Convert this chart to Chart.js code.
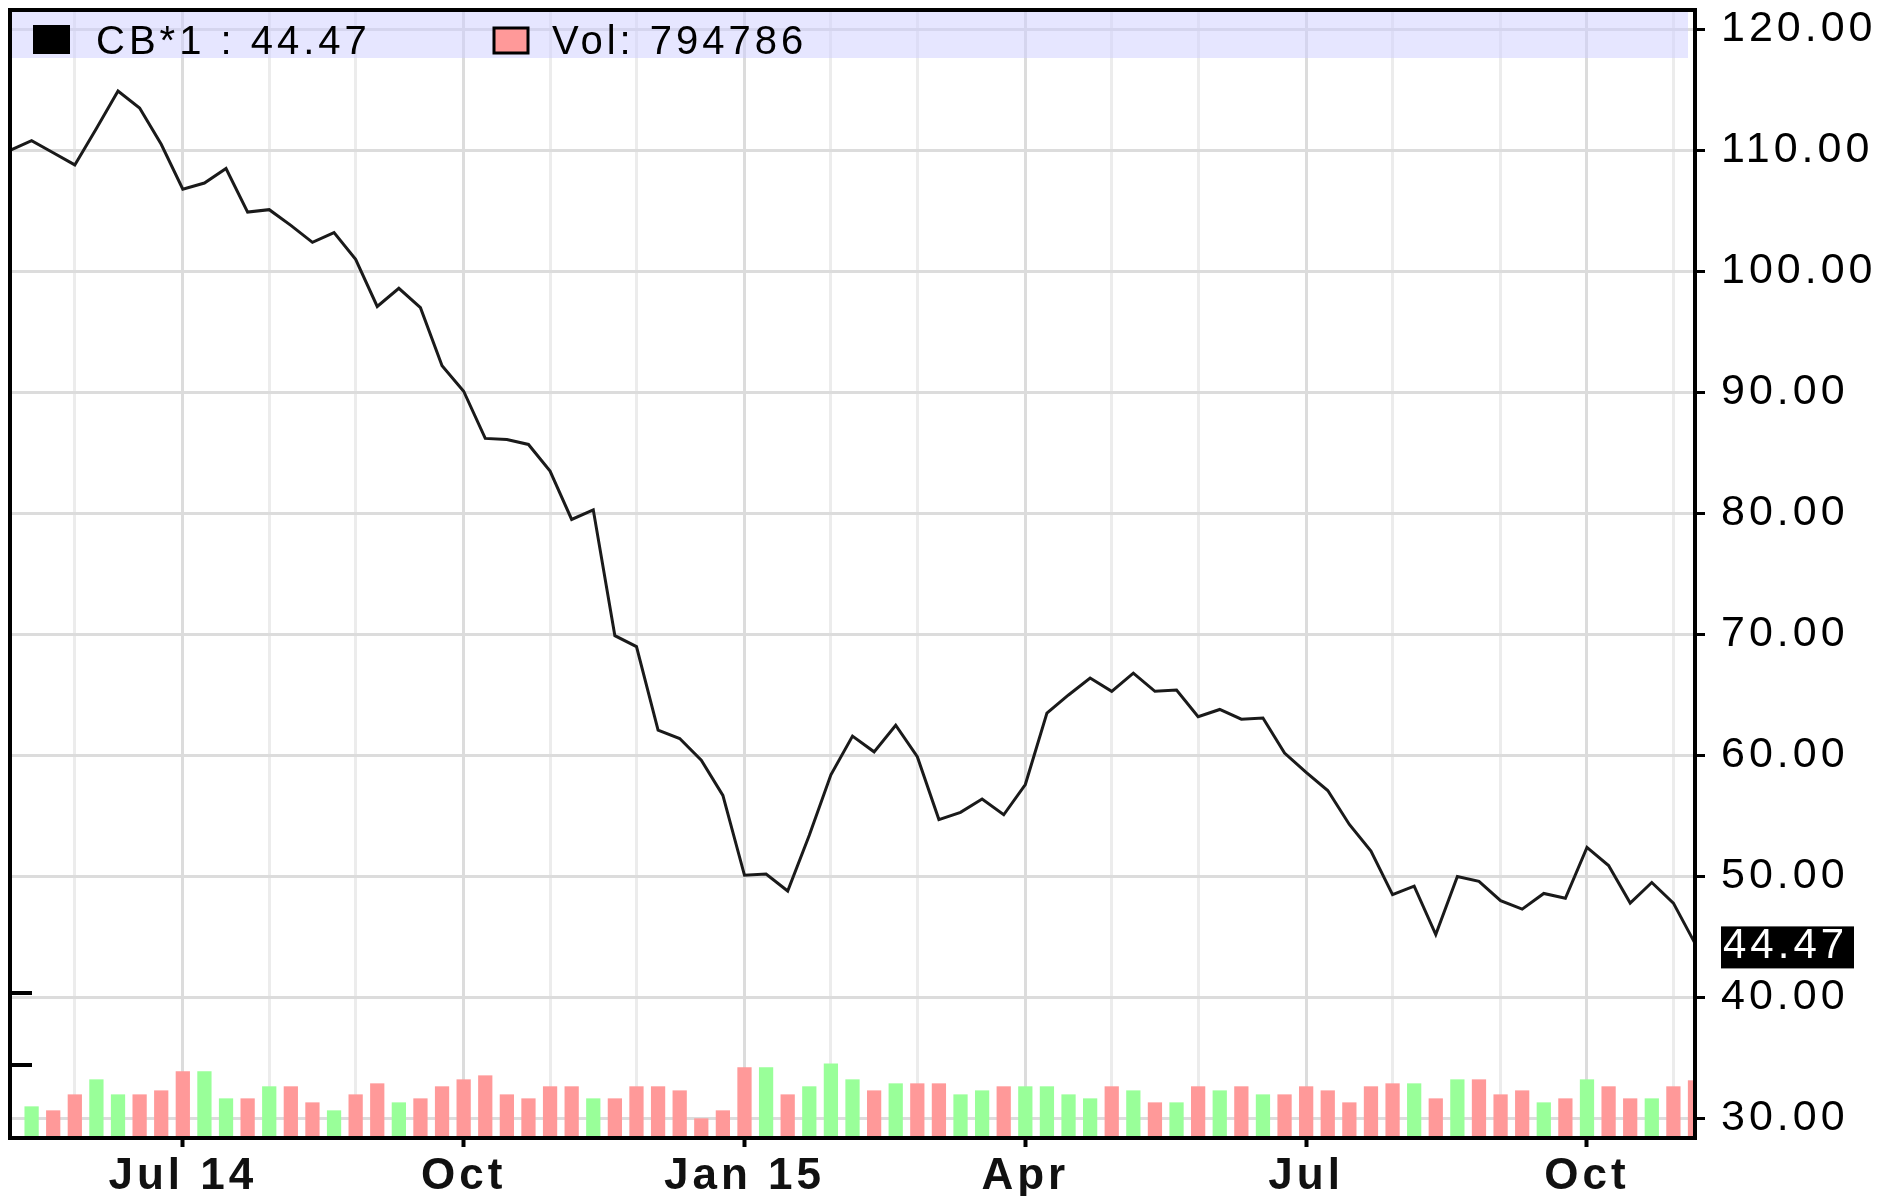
<!DOCTYPE html>
<html>
<head>
<meta charset="utf-8">
<script src="https://cdn.jsdelivr.net/npm/chart.js@4.4.1/dist/chart.umd.min.js"></script>
<style>
  html, body { margin: 0; padding: 0; background: #fff; }
</style>
</head>
<body>
<canvas id="chart" width="1898" height="1196"></canvas>
<script>
// --- Data: weekly CB*1 closes and volumes, first week starting 12 May 2014 ---
const seriesName = 'CB*1';
const firstWeek = '2014-05-12';

const closes = [
  110.0, 110.8, 109.8, 108.8, 111.8, 114.9, 113.5, 110.5, 106.8, 107.3,
  108.5, 104.9, 105.1, 103.8, 102.4, 103.2, 101.0, 97.1, 98.6, 97.0,
  92.2, 90.1, 86.2, 86.1, 85.7, 83.5, 79.5, 80.3, 69.9, 69.0,
  62.1, 61.4, 59.6, 56.7, 50.1, 50.2, 48.8, 53.4, 58.4, 61.6,
  60.3, 62.5, 59.9, 54.7, 55.3, 56.4, 55.1, 57.6, 63.5, 65.0,
  66.4, 65.3, 66.8, 65.3, 65.4, 63.2, 63.8, 63.0, 63.1, 60.2,
  58.6, 57.1, 54.3, 52.1, 48.5, 49.2, 45.2, 50.0, 49.6, 48.0,
  47.3, 48.6, 48.2, 52.4, 50.9, 47.8, 49.5, 47.8, 44.47
];

const volumes = [
  null, 436000, 381000, 601000, 808000, 601000, 601000, 656000, 918000, 918000,
  546000, 546000, 712000, 712000, 491000, 381000, 601000, 753000, 491000, 546000,
  712000, 808000, 863000, 601000, 546000, 712000, 712000, 546000, 546000, 712000,
  712000, 656000, 271000, 381000, 973000, 973000, 601000, 712000, 1028000, 808000,
  656000, 753000, 753000, 753000, 601000, 656000, 712000, 712000, 712000, 601000,
  546000, 712000, 656000, 491000, 491000, 712000, 656000, 712000, 601000, 601000,
  712000, 656000, 491000, 712000, 753000, 753000, 546000, 808000, 808000, 601000,
  656000, 491000, 546000, 808000, 712000, 546000, 546000, 712000, 794786
];

const priceTicks = [30, 40, 50, 60, 70, 80, 90, 100, 110, 120];
const volumeTicks = [1000000, 2000000];
const quarterLabels = ['Jul 14', 'Oct', 'Jan 15', 'Apr', 'Jul', 'Oct'];

// --- Categories: one label per week ---
const weeks = closes.map((_, i) => {
  const d = new Date(firstWeek + 'T00:00:00Z');
  d.setUTCDate(d.getUTCDate() + 7 * i);
  return d.toISOString().slice(0, 10);
});

// first week of every month gets a grid line, quarter months get a label
const monthStarts = [];
weeks.forEach((w, i) => {
  if (i > 0 && w.slice(5, 7) !== weeks[i - 1].slice(5, 7)) monthStarts.push(i);
});
const tickText = {};
let q = 0;
monthStarts.forEach(i => {
  if ([1, 4, 7, 10].includes(+weeks[i].slice(5, 7))) tickText[i] = quarterLabels[q++];
});

const barColors = volumes.map((v, i) =>
  i > 0 && closes[i] >= closes[i - 1] ? '#99ff99' : '#ff9999');

const FONT = '"Liberation Sans", Arial, sans-serif';
const last = closes.length - 1;

// --- Frame, legend band, last value box ---
const decor = {
  id: 'decor',
  beforeDraw(chart) {
    chart.ctx.letterSpacing = '4px';
  },
  beforeDatasetsDraw(chart) {
    const { ctx, chartArea: a } = chart;
    ctx.save();
    ctx.fillStyle = 'rgba(205, 205, 255, 0.5)';
    ctx.fillRect(a.left + 2, a.top + 2, a.right - a.left - 9, 46);
    ctx.restore();
  },
  afterDatasetsDraw(chart) {
    const { ctx, chartArea: a } = chart;
    const price = chart.scales.price;
    const vol = chart.scales.vol;
    ctx.save();
    ctx.letterSpacing = '4px';

    // frame
    ctx.strokeStyle = '#000';
    ctx.lineWidth = 4;
    ctx.strokeRect(a.left, a.top, a.right - a.left, a.bottom - a.top);

    // volume ticks, drawn inward from the left edge
    volumeTicks.forEach(v => {
      const y = Math.round(vol.getPixelForValue(v));
      ctx.beginPath();
      ctx.moveTo(a.left, y);
      ctx.lineTo(a.left + 22, y);
      ctx.stroke();
    });

    // legend
    ctx.fillStyle = '#000';
    ctx.fillRect(33, 25, 37, 29);
    ctx.fillStyle = '#ff9999';
    ctx.fillRect(494, 28, 34, 25);
    ctx.lineWidth = 3;
    ctx.strokeRect(494, 28, 34, 25);
    ctx.fillStyle = '#000';
    ctx.font = '40px ' + FONT;
    ctx.textBaseline = 'alphabetic';
    ctx.textAlign = 'left';
    ctx.fillText(seriesName + ' : ' + closes[last].toFixed(2), 96, 54);
    ctx.fillText('Vol: ' + volumes[last], 552, 54);

    // last value box on the price axis
    const py = price.getPixelForValue(closes[last]);
    ctx.fillStyle = '#000';
    ctx.fillRect(1721, py - 17, 133, 42);
    ctx.fillStyle = '#fff';
    ctx.font = '42px ' + FONT;
    ctx.fillText(closes[last].toFixed(2), 1723, py + 15);
    ctx.restore();
  }
};

new Chart(document.getElementById('chart'), {
  type: 'bar',
  data: {
    labels: weeks,
    datasets: [
      {
        type: 'line',
        label: seriesName,
        data: closes,
        yAxisID: 'price',
        borderColor: '#1a1a1a',
        borderWidth: 3,
        pointRadius: 0,
        tension: 0,
        order: 0
      },
      {
        type: 'bar',
        label: 'Vol',
        data: volumes,
        yAxisID: 'vol',
        backgroundColor: barColors,
        barPercentage: 0.66,
        categoryPercentage: 1,
        order: 1
      }
    ]
  },
  options: {
    responsive: false,
    animation: false,
    layout: { padding: { left: 10, top: 10, right: 0, bottom: 0 } },
    plugins: { legend: { display: false }, tooltip: { enabled: false } },
    scales: {
      x: {
        offset: false,
        afterBuildTicks: s => { s.ticks = monthStarts.map(i => ({ value: i })); },
        afterFit: s => {
          s.height = 58;
          s.paddingLeft = 0;
          s.paddingRight = 0;
        },
        ticks: {
          autoSkip: false,
          maxRotation: 0,
          minRotation: 0,
          padding: 3,
          color: '#111',
          font: { family: FONT, size: 44, weight: 'bold' },
          callback: v => tickText[v] || ''
        },
        grid: {
          offset: false,
          lineWidth: 3,
          color: c => (c.tick && tickText[c.tick.value]) ? '#dcdcdc' : '#ececec',
          tickLength: 9,
          tickWidth: 4,
          tickColor: c => (c.tick && tickText[c.tick.value]) ? '#000' : 'rgba(0,0,0,0)'
        },
        border: { display: false }
      },
      price: {
        position: 'right',
        min: 28.39,
        max: 121.6,
        afterBuildTicks: s => { s.ticks = priceTicks.map(v => ({ value: v })); },
        afterFit: s => {
          s.width = 203;
          s.paddingTop = 0;
          s.paddingBottom = 0;
        },
        ticks: {
          padding: 16,
          color: '#000',
          font: { family: FONT, size: 43 },
          callback: v => v.toFixed(2)
        },
        grid: {
          color: '#dcdcdc',
          lineWidth: 3,
          tickLength: 10,
          tickWidth: 3,
          tickColor: '#000'
        },
        border: { display: false }
      },
      vol: {
        position: 'left',
        display: false,
        min: 0,
        max: 15540000
      }
    }
  },
  plugins: [decor]
});
</script>
</body>
</html>
